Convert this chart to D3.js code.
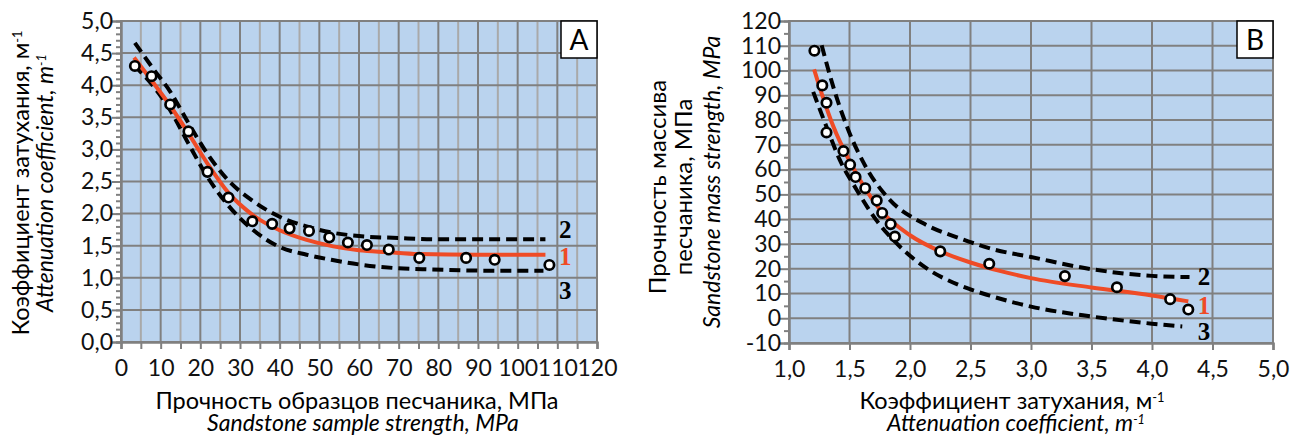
<!DOCTYPE html>
<html>
<head>
<meta charset="utf-8">
<script src="https://cdn.jsdelivr.net/npm/d3@7"></script>
<style>
  body { margin: 0; background: #fff; }
  svg { display: block; font-family: Lato, "Open Sans", sans-serif; }
</style>
</head>
<body>
<svg id="chart" width="1298" height="437"></svg>
<script>
// ---- panel A: attenuation vs sample strength ----
var aPointX = [3.5, 7.7, 12.4, 17.0, 21.8, 27.1, 33.1, 38.1, 42.5, 47.4, 52.5, 57.2, 62.0, 67.5, 75.2, 87.0, 94.2, 108.0];
var aPointY = [4.30, 4.14, 3.70, 3.28, 2.65, 2.25, 1.88, 1.84, 1.77, 1.73, 1.63, 1.55, 1.51, 1.44, 1.31, 1.31, 1.28, 1.20];

var aFitX = [3.3, 8, 12.4, 17, 21.8, 27, 33.4, 40, 46.8, 53.5, 60, 67, 75, 90, 107];
var aFitY = [4.43, 4.05, 3.68, 3.25, 2.78, 2.33, 1.97, 1.74, 1.59, 1.49, 1.43, 1.40, 1.37, 1.36, 1.36];
var aUpperX = [3.5, 8.2, 12.4, 17, 21.8, 27, 33.4, 40, 46.8, 53.5, 60, 70, 80, 107];
var aUpperY = [4.66, 4.25, 3.90, 3.41, 2.93, 2.52, 2.19, 1.95, 1.80, 1.70, 1.65, 1.62, 1.60, 1.60];
var aLowerX = [3.3, 8.2, 12.4, 17, 21.8, 27, 33.4, 40, 46.8, 53, 61, 69.5, 78, 95, 106.5];
var aLowerY = [4.31, 3.98, 3.61, 3.09, 2.57, 2.13, 1.74, 1.48, 1.36, 1.28, 1.20, 1.15, 1.13, 1.11, 1.11];

var aXTicks = d3.range(0, 121, 10);
var aYTicks = d3.range(0, 5.01, 0.5);

// ---- panel B: mass strength vs attenuation ----
var bPointX = [1.21, 1.275, 1.31, 1.31, 1.45, 1.505, 1.55, 1.63, 1.725, 1.77, 1.84, 1.875, 2.25, 2.655, 3.28, 3.71, 4.15, 4.30];
var bPointY = [108, 94, 87, 75, 67.5, 62, 57, 52.5, 47.5, 42.5, 38, 33, 27, 22, 17, 12.5, 7.7, 3.5];

var bFitX = [1.207, 1.275, 1.366, 1.5, 1.75, 2.0, 2.25, 2.5, 2.75, 3.0, 3.5, 4.0, 4.3];
var bFitY = [100.5, 90, 77.5, 63.5, 44, 33.5, 27, 22.5, 19, 16.2, 12.4, 9.2, 6.8];
var bUpperX = [1.27, 1.366, 1.49, 1.642, 1.835, 2.11, 2.41, 2.69, 3.0, 3.5, 4.0, 4.31];
var bUpperY = [110.2, 93.4, 76, 60.5, 47.7, 38.3, 32.3, 27.8, 24.7, 19.8, 17.1, 16.6];
var bLowerX = [1.2, 1.31, 1.42, 1.56, 1.72, 1.876, 2.135, 2.4, 2.66, 3.0, 3.5, 4.0, 4.25];
var bLowerY = [91.4, 77.3, 63.9, 51.8, 39.7, 30.9, 20.2, 13.5, 9.1, 4.7, 0.7, -2.2, -3.3];

var bXTicks = d3.range(1, 5.01, 0.5);
var bYTicks = d3.range(-10, 121, 10);

var locale = d3.formatLocale({decimal: ",", thousands: " ", grouping: [3], currency: ["", ""], minus: "-"});
var fmt1 = locale.format(".1f");
var fmt0 = locale.format("d");

var svg = d3.select('#chart');
var DARK = '#808080', LIGHT = '#a9a9a9', RED = '#ef4b26', BG = '#bad3ee';

function zip(xs, ys) {
    return xs.map(function(v, i) { return [v, ys[i]]; });
}

function drawPanel(p) {
    var g = svg.append('g');
    var x = d3.scaleLinear().domain(p.xDomain).range([p.left, p.right]);
    var y = d3.scaleLinear().domain(p.yDomain).range([p.bottom, p.top]);

    g.append('rect').attr('x', p.left).attr('y', p.top)
        .attr('width', p.right - p.left).attr('height', p.bottom - p.top)
        .attr('fill', BG);

    // grid
    p.xGrid.forEach(function(v) {
        g.append('line').attr('x1', x(v)).attr('x2', x(v)).attr('y1', p.top).attr('y2', p.bottom)
            .attr('stroke', p.isLight(v) ? LIGHT : DARK).attr('stroke-width', 2);
    });
    p.yGrid.forEach(function(v) {
        g.append('line').attr('x1', p.left).attr('x2', p.right).attr('y1', y(v)).attr('y2', y(v))
            .attr('stroke', DARK).attr('stroke-width', 2);
    });
    g.append('rect').attr('x', p.left).attr('y', p.top)
        .attr('width', p.right - p.left).attr('height', p.bottom - p.top)
        .attr('fill', 'none').attr('stroke', DARK).attr('stroke-width', 2);

    // axes
    var yMinor = g.append('g').attr('transform', 'translate(' + p.left + ',0)')
        .call(d3.axisLeft(y).tickValues(p.yMinor).tickSize(5).tickFormat(''));
    var yMajor = g.append('g').attr('transform', 'translate(' + p.left + ',0)')
        .call(d3.axisLeft(y).tickValues(p.yTicks).tickSize(9).tickPadding(-1).tickFormat(p.yFmt));
    var xMinor = g.append('g').attr('transform', 'translate(0,' + p.bottom + ')')
        .call(d3.axisBottom(x).tickValues(p.xMinor).tickSize(7).tickFormat(''));
    var xMajor = g.append('g').attr('transform', 'translate(0,' + p.bottom + ')')
        .call(d3.axisBottom(x).tickValues(p.xTicks).tickSize(7).tickPadding(11).tickFormat(p.xFmt));
    [yMinor, yMajor, xMinor, xMajor].forEach(function(a) {
        a.selectAll('.domain').attr('stroke', DARK).attr('stroke-width', 2);
        a.selectAll('.tick line').attr('stroke', DARK).attr('stroke-width', 2);
        a.selectAll('.tick text').attr('font-size', 23).attr('fill', '#111')
            .attr('font-family', 'Lato, "Open Sans", sans-serif');
    });

    // curves
    var line = d3.line().x(function(d) { return x(d[0]); }).y(function(d) { return y(d[1]); })
        .curve(d3.curveMonotoneX);
    p.dashed.forEach(function(c) {
        g.append('path').attr('d', line(c)).attr('fill', 'none')
            .attr('stroke', '#000').attr('stroke-width', 4).attr('stroke-dasharray', '11,6');
    });
    g.append('path').attr('d', line(p.fit)).attr('fill', 'none')
        .attr('stroke', RED).attr('stroke-width', 4);

    g.selectAll('circle.pt').data(p.points).enter().append('circle')
        .attr('cx', function(d) { return x(d[0]); })
        .attr('cy', function(d) { return y(d[1]); })
        .attr('r', 4.7).attr('fill', '#fff').attr('stroke', '#000').attr('stroke-width', 2.7);

    // curve numbers
    p.tags.forEach(function(t) {
        g.append('text').attr('x', x(p.tagX)).attr('y', y(t.v)).attr('dy', '0.35em')
            .attr('text-anchor', 'middle')
            .attr('font-family', '"Liberation Serif", serif').attr('font-weight', 'bold')
            .attr('font-size', 25).attr('fill', t.color).text(t.label);
    });

    // letter box
    g.append('rect').attr('x', p.right - 36).attr('y', p.top).attr('width', 36).attr('height', 37)
        .attr('fill', '#fff').attr('stroke', '#000').attr('stroke-width', 1.5);
    g.append('text').attr('x', p.right - 18).attr('y', p.top + 29).attr('text-anchor', 'middle')
        .attr('font-size', 28).attr('fill', '#000').text(p.letter);
}

function hText(x, y, size, italic, parts) {
    var t = svg.append('text').attr('x', x).attr('y', y).attr('text-anchor', 'middle')
        .attr('font-size', size).attr('fill', '#000');
    if (italic) t.attr('font-style', 'italic');
    t.append('tspan').text(parts[0]);
    if (parts[1]) t.append('tspan').attr('dy', '-0.55em').attr('font-size', size * 0.55).text(parts[1]);
    return t;
}

function vText(x, y, size, italic, parts) {
    var t = hText(0, 0, size, italic, parts);
    t.attr('transform', 'translate(' + x + ',' + y + ') rotate(-90)');
}

drawPanel({
    left: 121, right: 597, top: 21, bottom: 342,
    xDomain: [0, 120], yDomain: [0, 5],
    xGrid: d3.range(5, 120, 5), yGrid: d3.range(0.5, 5, 0.5),
    isLight: function(v) { return v % 10 !== 0; },
    xTicks: aXTicks, xMinor: d3.range(5, 120, 10), xFmt: fmt0,
    yTicks: aYTicks, yMinor: d3.range(0, 50).map(function(i) { return i / 10; }), yFmt: fmt1,
    points: zip(aPointX, aPointY),
    fit: zip(aFitX, aFitY),
    dashed: [zip(aUpperX, aUpperY), zip(aLowerX, aLowerY)],
    tagX: 112,
    tags: [{label: '2', v: 1.75, color: '#000'}, {label: '1', v: 1.33, color: RED}, {label: '3', v: 0.8, color: '#000'}],
    letter: 'A'
});

drawPanel({
    left: 789, right: 1273, top: 21, bottom: 343,
    xDomain: [1, 5], yDomain: [-10, 120],
    xGrid: d3.range(1.5, 5, 0.5), yGrid: d3.range(0, 120, 10),
    isLight: function() { return false; },
    xTicks: bXTicks, xMinor: [], xFmt: fmt1,
    yTicks: bYTicks, yMinor: d3.range(-5, 120, 10), yFmt: fmt0,
    points: zip(bPointX, bPointY),
    fit: zip(bFitX, bFitY),
    dashed: [zip(bUpperX, bUpperY), zip(bLowerX, bLowerY)],
    tagX: 4.43,
    tags: [{label: '2', v: 16.8, color: '#000'}, {label: '1', v: 5.4, color: RED}, {label: '3', v: -5.3, color: '#000'}],
    letter: 'B'
});

// axis titles
hText(357, 409, 23.5, false, ['Прочность образцов песчаника, МПа']);
hText(363, 431, 23, true, ['Sandstone sample strength, MPa']);
vText(29, 183, 23.5, false, ['Коэффициент затухания, м', '-1']);
vText(53, 183, 23, true, ['Attenuation coefficient, m', '-1']);

hText(1012, 409, 23.5, false, ['Коэффициент затухания, м', '-1']);
hText(1016, 431, 23, true, ['Attenuation coefficient, m', '-1']);
vText(666, 187, 24, false, ['Прочность массива']);
vText(692, 187, 24, false, ['песчаника, МПа']);
vText(720, 182, 23, true, ['Sandstone mass strength, MPa']);
</script>
</body>
</html>
